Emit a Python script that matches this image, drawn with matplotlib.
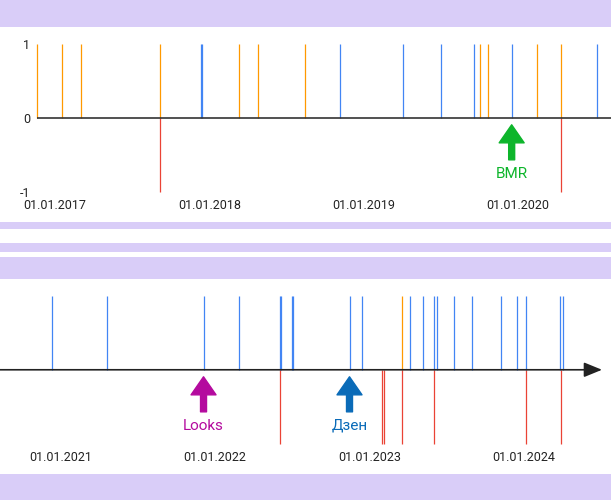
import matplotlib
matplotlib.use('Agg')
import matplotlib.pyplot as plt
import pandas as pd
from matplotlib.patches import Rectangle

plt.rcParams['font.family'] = ['Roboto', 'DejaVu Sans']

# events: orange / blue go up (+1), red goes down (-1)
orange_up = ['2016-11-20', '2017-01-18', '2017-03-04', '2017-09-07', '2018-03-11',
             '2018-04-27', '2018-08-16', '2019-10-02', '2019-10-21', '2020-02-14',
             '2020-04-11', '2023-03-18']
blue_up = ['2017-12-13', '2017-12-15', '2018-11-07', '2019-04-03', '2019-07-02',
           '2019-09-20', '2019-12-17', '2020-07-07',
           '2020-12-13', '2021-04-22', '2021-12-05', '2022-02-26', '2022-06-03',
           '2022-06-07', '2022-07-03', '2022-07-05', '2022-11-15', '2022-12-15',
           '2023-04-08', '2023-05-08', '2023-06-03', '2023-06-10', '2023-07-21',
           '2023-09-01', '2023-11-09', '2023-12-17', '2024-01-05', '2024-03-27',
           '2024-04-03']
red_down = ['2017-09-07', '2020-04-11', '2022-06-03', '2023-01-31', '2023-02-05',
            '2023-03-18', '2023-06-03', '2024-01-05', '2024-03-29']

# arrows with captions under the axis
marks = ['BMR', 'Looks', 'Дзен']
mark_dates = ['2019-12-17', '2021-12-05', '2022-11-15']
mark_colors = ['#0db52b', '#b40a9e', '#0a6bb8']

ticks_top = ['2017-01-01', '2018-01-01', '2019-01-01', '2020-01-01']
ticks_bottom = ['2021-01-01', '2022-01-01', '2023-01-01', '2024-01-01']
range_top = ['2016-11-19', '2020-08-08']
range_bottom = ['2020-08-11', '2024-07-25']

ORANGE = '#ff9900'
BLUE = '#4285f4'
RED = '#ea4335'
LAV = '#d9cdf8'

fig = plt.figure(figsize=(6.11, 5.0), dpi=100)

# lavender bands (pixel rows from the top)
for y0, y1 in [(0, 26.7), (221.7, 229), (243.3, 251.7), (256.7, 279), (474, 500)]:
    fig.add_artist(Rectangle((0, 1 - y1 / 500), 1, (y1 - y0) / 500,
                             transform=fig.transFigure, color=LAV, lw=0, zorder=0))

ax1 = fig.add_axes([37 / 611, 1 - 196 / 500, 1 - 37 / 611, 169 / 500])
ax2 = fig.add_axes([0, 1 - 448 / 500, 1, 169 / 500])


def panel(ax, xr, ticks):
    lo, hi = pd.to_datetime(xr)
    ax.set_facecolor('none')
    ax.set_xlim(lo, hi)
    ax.set_ylim(-1.06, 1.23)
    for s in ax.spines.values():
        s.set_visible(False)

    def inside(lst):
        d = pd.to_datetime(lst)
        return d[(d >= lo) & (d <= hi)]

    ax.vlines(inside(orange_up), 0, 1, color=ORANGE, lw=0.9, clip_on=False, zorder=2)
    ax.vlines(inside(blue_up), 0, 1, color=BLUE, lw=0.9, clip_on=False, zorder=2)
    ax.vlines(inside(red_down), -1, 0, color=RED, lw=0.9, clip_on=False, zorder=2)

    for name, d, c in zip(marks, mark_dates, mark_colors):
        d = pd.to_datetime(d)
        if lo <= d <= hi:
            ax.annotate('', xy=(d, -0.095), xytext=(d, -0.57),
                        arrowprops=dict(arrowstyle='simple,head_length=1.3,head_width=1.8,tail_width=0.43',
                                        color=c, shrinkA=0, shrinkB=0, mutation_scale=10))
            ax.text(d, -0.76, name, color=c, fontsize=11, ha='center', va='center')

    td = pd.to_datetime(ticks)
    ax.set_xticks(td)
    ax.set_xticklabels([t.strftime('%d.%m.%Y') for t in td])
    ax.tick_params(axis='x', length=0, pad=2.5, labelsize=9, labelcolor='#222222')


panel(ax1, range_top, ticks_top)
ax1.axhline(0, color='#333333', lw=1.2, zorder=3)
ax1.set_yticks([-1, 0, 1])
ax1.set_yticklabels(['-1', '0', '1'])
ax1.tick_params(axis='y', length=0, pad=5, labelsize=9, labelcolor='#222222')

panel(ax2, range_bottom, ticks_bottom)
ax2.set_yticks([])
ax2.annotate('', xy=(602 / 611, 0), xytext=(0, 0),
             xycoords=('axes fraction', 'data'), textcoords=('axes fraction', 'data'),
             arrowprops=dict(arrowstyle='-|>,head_length=1.1,head_width=0.45',
                             color='#222222', lw=1.2, shrinkA=0, shrinkB=0,
                             mutation_scale=10), zorder=3)

fig.savefig('out.png', dpi=100)
